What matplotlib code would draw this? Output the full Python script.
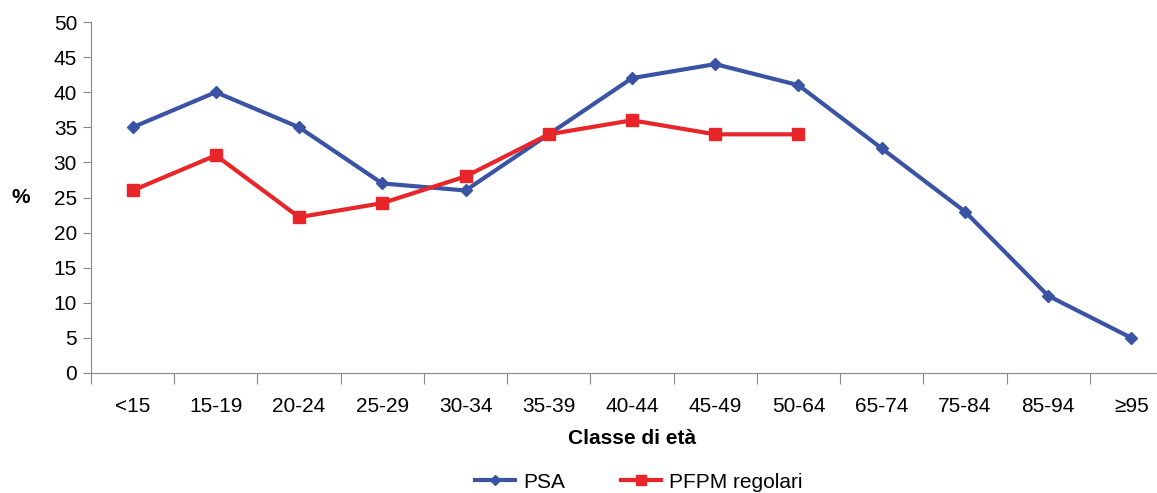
import matplotlib
matplotlib.use("Agg")
import matplotlib.pyplot as plt

plt.rcParams['font.family'] = ['Liberation Sans', 'DejaVu Sans']

categories = ["<15", "15-19", "20-24", "25-29", "30-34", "35-39", "40-44",
              "45-49", "50-64", "65-74", "75-84", "85-94", "≥95"]
psa = [35, 40, 35, 27, 26, 34, 42, 44, 41, 32, 23, 11, 5]
pfpm = [26, 31, 22.2, 24.2, 28, 34, 36, 34, 34]

blue = "#3A53A4"
red = "#E8262A"

fig = plt.figure(figsize=(11.57, 4.93), dpi=100)
ax = fig.add_axes([91 / 1157, 120 / 493, 1082 / 1157, 351 / 493])

x = list(range(len(categories)))
ax.plot(x, psa, color=blue, lw=3, marker="D", ms=6.5, label="PSA")
ax.plot(x[:len(pfpm)], pfpm, color=red, lw=3, marker="s", ms=9,
        label="PFPM regolari")

ax.set_xlim(-0.5, len(categories) - 0.5)
ax.set_ylim(0, 50)
ax.set_yticks(range(0, 51, 5))
ax.set_xticks([i - 0.5 for i in range(len(categories) + 1)], minor=False)
ax.set_xticklabels([])
ax.set_xticks(x, minor=True)
ax.set_xticklabels(categories, minor=True)
ax.tick_params(axis="x", which="major", length=8, color="#888888", direction="out")
ax.tick_params(axis="x", which="minor", length=0, pad=17, labelsize=15)
ax.tick_params(axis="y", length=6, color="#888888", labelsize=15, pad=4)

for s in ["top", "right"]:
    ax.spines[s].set_visible(False)
ax.spines["left"].set_color("#888888")
ax.spines["bottom"].set_color("#888888")

ax.set_xlabel("Classe di età", fontsize=15, fontweight="bold", labelpad=10)
ax.set_ylabel("%", fontsize=15, fontweight="bold", rotation=0, va="center")
ax.yaxis.set_label_coords(-0.065, 0.5)

fig.legend(loc="lower center", bbox_to_anchor=(0.552, -0.035), ncol=2,
           frameon=False, fontsize=15, handlelength=1.9, handletextpad=0.4,
           columnspacing=2.7, markerscale=0.8)

fig.savefig("out.png", dpi=100)
